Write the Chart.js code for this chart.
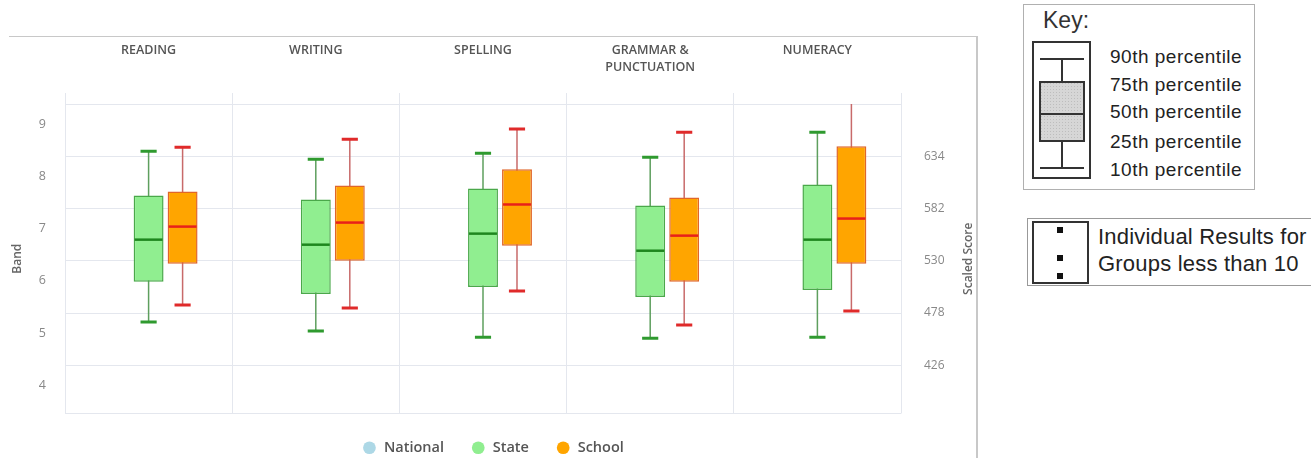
<!DOCTYPE html>
<html>
<head>
<meta charset="utf-8">
<script src="https://cdn.jsdelivr.net/npm/chart.js@4.4.1/dist/chart.umd.min.js"></script>
<style>
	body { margin: 0; background: #fff; width: 1311px; height: 458px; overflow: hidden; position: relative; }
	#frame { position: absolute; left: 9px; top: 36px; width: 967px; height: 430px; border-top: 1px solid #c8c8c8; border-right: 2px solid #c8c8c8; }
	#wrap { position: absolute; left: 9px; top: 37px; width: 968px; height: 428px; }
	.note { position: absolute; font-family: "Liberation Sans", Arial, sans-serif; color: #222; }
	#key { left: 1023px; top: 4px; width: 230px; height: 184px; border: 1px solid #b0b0b0; }
	#key .t { position: absolute; left: 19px; top: 2px; font-size: 23px; color: #333; }
	#key .p { position: absolute; left: 86px; font-size: 19px; letter-spacing: 0.5px; }
	#indiv { left: 1027px; top: 218px; width: 300px; height: 66px; border: 1px solid #999; }
	#indiv .p { position: absolute; left: 70px; font-size: 22px; letter-spacing: 0.2px; }
</style>
</head>
<body>
<div id="frame"></div>
<div id="wrap"><canvas id="chart"></canvas></div>

<div id="key" class="note">
	<div class="t">Key:</div>
	<svg style="position:absolute;left:8px;top:36px" width="60" height="140">
		<defs>
			<pattern id="dots" width="3" height="3" patternUnits="userSpaceOnUse">
				<rect width="3" height="3" fill="#d6d6d6"/>
				<rect width="1" height="1" fill="#bdbdbd"/>
			</pattern>
		</defs>
		<rect x="1" y="1" width="57" height="136" fill="none" stroke="#333" stroke-width="2"/>
		<line x1="8" y1="18" x2="52" y2="18" stroke="#333" stroke-width="2"/>
		<line x1="30" y1="18" x2="30" y2="41" stroke="#333" stroke-width="2"/>
		<rect x="8" y="41" width="44" height="59" fill="url(#dots)" stroke="#333" stroke-width="2"/>
		<line x1="8" y1="73" x2="52" y2="73" stroke="#333" stroke-width="2"/>
		<line x1="30" y1="100" x2="30" y2="127" stroke="#333" stroke-width="2"/>
		<line x1="8" y1="127" x2="52" y2="127" stroke="#333" stroke-width="2"/>
	</svg>
	<div class="p" style="top:41px">90th percentile</div>
	<div class="p" style="top:69px">75th percentile</div>
	<div class="p" style="top:96px">50th percentile</div>
	<div class="p" style="top:126px">25th percentile</div>
	<div class="p" style="top:154px">10th percentile</div>
</div>

<div id="indiv" class="note">
	<svg style="position:absolute;left:4px;top:2px" width="58" height="64">
		<rect x="1" y="1" width="55" height="61" fill="none" stroke="#333" stroke-width="2"/>
		<rect x="25" y="6" width="6" height="6" fill="#111"/>
		<rect x="25" y="34" width="6" height="6" fill="#111"/>
		<rect x="25" y="52" width="6" height="6" fill="#111"/>
	</svg>
	<div class="p" style="top:5px">Individual Results for</div>
	<div class="p" style="top:32px">Groups less than 10</div>
</div>

<script>
const categories = ["READING", "WRITING", "SPELLING", ["GRAMMAR &", "PUNCTUATION"], "NUMERACY"];
const seriesNames = ["National", "State", "School"];

// scaled score percentiles
const state_p10 = [469, 460, 454, 453, 454];
const state_p25 = [509, 497, 504, 494, 501];
const state_p50 = [551, 546, 557, 540, 551];
const state_p75 = [595, 591, 602, 585, 606];
const state_p90 = [639, 631, 637, 633, 658];

const school_p10 = [486, 483, 500, 466, 480];
const school_p25 = [527, 530, 545, 509, 527];
const school_p50 = [564, 568, 586, 555, 572];
const school_p75 = [599, 605, 621, 593, 644];
const school_p90 = [643, 651, 661, 658, 700];

const bandTicks = [4, 5, 6, 7, 8, 9];
const scoreTicks = [378, 426, 478, 530, 582, 634, 686];
const scoreLabels = ["", "426", "478", "530", "582", "634", ""];

const FONT = "'Open Sans', 'DejaVu Sans', sans-serif";
const gridColor = "#e4e7ee";

function boxData(lo, hi) {
	return lo.map((v, i) => [v, hi[i]]);
}

const boxes = {
	1: { p10: state_p10, p50: state_p50, p90: state_p90, stem: "#5e9f5e", cap: "#2f9a2f", median: "#1e861e" },
	2: { p10: school_p10, p50: school_p50, p90: school_p90, stem: "#c86a6a", cap: "#e02a2a", median: "#e8201a" }
};

// whiskers behind the boxes, medians on top
const whiskerPlugin = {
	id: "whiskers",
	beforeDatasetsDraw(chart) {
		const ctx = chart.ctx;
		const y = chart.scales.y2;
		const area = chart.chartArea;
		ctx.save();
		ctx.beginPath();
		ctx.rect(area.left, area.top, area.right - area.left, area.bottom - area.top);
		ctx.clip();
		Object.keys(boxes).forEach((d) => {
			const b = boxes[d];
			chart.getDatasetMeta(d).data.forEach((bar, i) => {
				const x = bar.x;
				const half = bar.width * 0.27;
				const top = y.getPixelForValue(b.p90[i]);
				const bot = y.getPixelForValue(b.p10[i]);
				ctx.strokeStyle = b.stem;
				ctx.lineWidth = 1.5;
				ctx.beginPath();
				ctx.moveTo(x, top);
				ctx.lineTo(x, bot);
				ctx.stroke();
				ctx.strokeStyle = b.cap;
				ctx.lineWidth = 3;
				ctx.beginPath();
				ctx.moveTo(x - half, top);
				ctx.lineTo(x + half, top);
				ctx.moveTo(x - half, bot);
				ctx.lineTo(x + half, bot);
				ctx.stroke();
			});
		});
		ctx.restore();
	},
	afterDatasetsDraw(chart) {
		const ctx = chart.ctx;
		const y = chart.scales.y2;
		ctx.save();
		Object.keys(boxes).forEach((d) => {
			const b = boxes[d];
			chart.getDatasetMeta(d).data.forEach((bar, i) => {
				const py = y.getPixelForValue(b.p50[i]);
				ctx.strokeStyle = b.median;
				ctx.lineWidth = 2.5;
				ctx.beginPath();
				ctx.moveTo(bar.x - bar.width / 2 + 1, py);
				ctx.lineTo(bar.x + bar.width / 2 - 1, py);
				ctx.stroke();
			});
		});
		// right axis title reads bottom to top
		const area = chart.chartArea;
		ctx.translate(960, (area.top + area.bottom) / 2);
		ctx.rotate(-Math.PI / 2);
		ctx.fillStyle = "#666";
		ctx.font = "600 12px " + FONT;
		ctx.textAlign = "center";
		ctx.textBaseline = "middle";
		ctx.fillText("Scaled Score", 0, 0);
		ctx.restore();
	}
};

new Chart(document.getElementById("chart"), {
	type: "bar",
	data: {
		labels: categories,
		datasets: [
			{
				label: seriesNames[0],
				data: categories.map(() => null),
				backgroundColor: "#add8e6",
				borderColor: "#add8e6",
				yAxisID: "y2"
			},
			{
				label: seriesNames[1],
				data: boxData(state_p25, state_p75),
				backgroundColor: "#90ee90",
				borderColor: "#4aa84a",
				borderWidth: 1.5,
				borderSkipped: false,
				yAxisID: "y2"
			},
			{
				label: seriesNames[2],
				data: boxData(school_p25, school_p75),
				backgroundColor: "#ffa500",
				borderColor: "#e0662a",
				borderWidth: 1.5,
				borderSkipped: false,
				yAxisID: "y2"
			}
		]
	},
	options: {
		responsive: true,
		maintainAspectRatio: false,
		animation: false,
		categoryPercentage: 0.61,
		barPercentage: 0.88,
		layout: { padding: 0 },
		scales: {
			x: {
				position: "top",
				offset: true,
				grid: { offset: true, color: gridColor, tickLength: 11, tickColor: gridColor },
				border: { display: false },
				ticks: {
					color: "#555",
					crossAlign: "far",
					padding: 17,
					font: { family: FONT, size: 12.5, weight: "600", lineHeight: 1.36 }
				},
				afterFit(s) { s.height = 67; }
			},
			y: {
				position: "left",
				min: 9 + (378 - 666) / 52,
				max: 9 + (686 - 666) / 52,
				afterBuildTicks(s) { s.ticks = bandTicks.map((v) => ({ value: v })); },
				grid: { display: false },
				border: { display: false },
				ticks: { color: "#888", padding: 11, font: { family: FONT, size: 12.5 } },
				title: { display: true, text: "Band", color: "#666", padding: 1, font: { family: FONT, size: 12, weight: "600" } },
				afterFit(s) { s.width = 56; }
			},
			y2: {
				position: "right",
				min: 378,
				max: 686,
				afterBuildTicks(s) { s.ticks = scoreTicks.map((v) => ({ value: v })); },
				grid: { color: gridColor, drawTicks: false },
				border: { display: false },
				ticks: {
					color: "#888",
					padding: 23,
					font: { family: FONT, size: 12 },
					callback: (v, i) => scoreLabels[i]
				},
				afterFit(s) { s.width = 76; }
			}
		},
		plugins: {
			tooltip: { enabled: false },
			legend: {
				position: "bottom",
				labels: {
					usePointStyle: true,
					pointStyle: "circle",
					boxWidth: 20,
					boxHeight: 9,
					padding: 27,
					color: "#555",
					font: { family: FONT, size: 14.5, weight: "600" },
					generateLabels(chart) {
						const items = Chart.defaults.plugins.legend.labels.generateLabels(chart);
						items.forEach((it) => { it.strokeStyle = it.fillStyle; it.lineWidth = 0; });
						return items;
					}
				}
			}
		}
	},
	plugins: [whiskerPlugin]
});
</script>
</body>
</html>
